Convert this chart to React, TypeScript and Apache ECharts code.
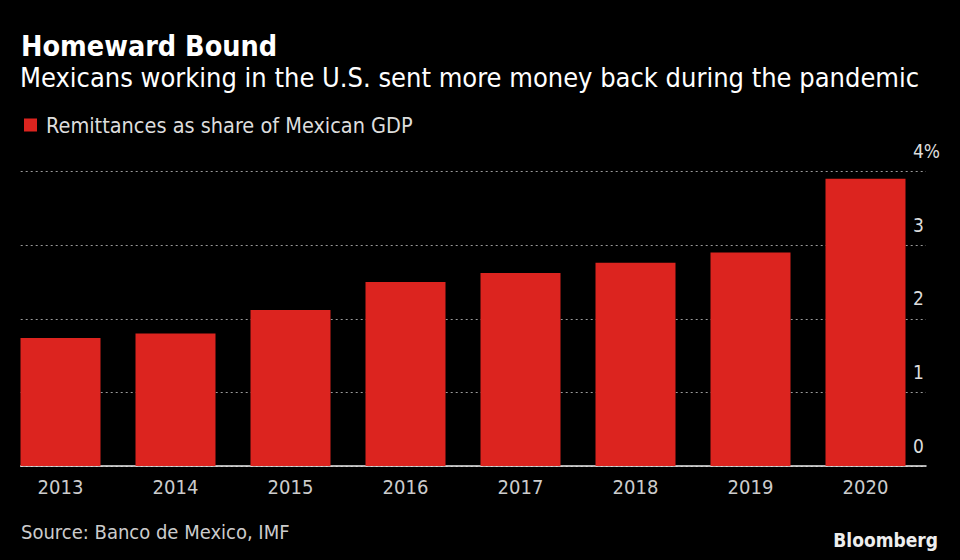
import React, { useEffect, useRef } from "react";
import * as echarts from "echarts";

const categories = ["2013", "2014", "2015", "2016", "2017", "2018", "2019", "2020"];
const remittances = [1.74, 1.8, 2.12, 2.5, 2.62, 2.76, 2.9, 3.9];
const yTicks = [0, 1, 2, 3, 4];

const FONT = "'DejaVu Sans Condensed', 'DejaVu Sans', sans-serif";
const RED = "#dc241f";

export default function App() {
  const ref = useRef<HTMLDivElement>(null);
  useEffect(() => {
    document.body.style.margin = "0";
    document.body.style.background = "#000";
    const chart = echarts.init(ref.current!, null, { renderer: "svg" });
    chart.setOption({
      animation: false,
      backgroundColor: "#000",
      textStyle: { fontFamily: FONT },
      title: [
        {
          text: "Homeward Bound",
          left: 21,
          top: 32,
          padding: 0,
          textStyle: { color: "#fff", fontSize: 28.5, fontWeight: "bold", fontFamily: FONT },
        },
        {
          text: "Mexicans working in the U.S. sent more money back during the pandemic",
          left: 20,
          top: 64,
          padding: 0,
          textStyle: { color: "#fff", fontSize: 27, fontWeight: "normal", fontFamily: FONT },
        },
        {
          text: "Source: Banco de Mexico, IMF",
          left: 21,
          top: 522,
          padding: 0,
          textStyle: { color: "#ccc", fontSize: 20, fontWeight: "normal", fontFamily: FONT },
        },
        {
          text: "Bloomberg",
          right: 22,
          top: 530,
          padding: 0,
          textStyle: { color: "#eee", fontSize: 19, fontWeight: "bold", fontFamily: FONT },
        },
      ],
      legend: {
        left: 19,
        top: 109,
        itemWidth: 13,
        itemHeight: 13,
        itemGap: 10,
        icon: "rect",
        textStyle: { color: "#ddd", fontSize: 21.5, fontFamily: FONT, padding: [0, 0, 0, 4] },
        data: ["Remittances as share of Mexican GDP"],
      },
      grid: [
        { left: 3, width: 920, top: 171.5, height: 294.5 },
        { left: 20.7, right: 34, top: 171.5, height: 294.5 },
      ],
      xAxis: [
        {
          type: "category",
          gridIndex: 0,
          data: categories,
          axisLine: { show: false },
          axisTick: { show: false },
          axisLabel: { color: "#ccc", fontSize: 20, margin: 11, fontFamily: FONT },
        },
        {
          type: "value",
          gridIndex: 1,
          min: 0,
          max: 1,
          axisLine: { show: true, onZero: false, lineStyle: { color: "#eee", width: 1.5 } },
          axisTick: { show: false },
          axisLabel: { show: false },
          splitLine: { show: false },
        },
      ],
      yAxis: [
        {
          type: "value",
          gridIndex: 0,
          min: 0,
          max: 4,
          interval: 1,
          show: false,
          splitLine: { show: false },
        },
        {
          type: "value",
          gridIndex: 1,
          position: "right",
          min: yTicks[0],
          max: yTicks[yTicks.length - 1],
          interval: 1,
          axisLine: { show: false },
          axisTick: { show: false },
          splitLine: { show: true, lineStyle: { color: "#999", type: [2, 3], width: 1 } },
          axisLabel: {
            color: "#ddd",
            fontSize: 19,
            align: "left",
            verticalAlign: "bottom",
            margin: -13,
            padding: [0, 0, 11, 0],
            fontFamily: FONT,
            formatter: (v: number) => (v === 4 ? v + "%" : String(v)),
          },
        },
      ],
      series: [
        {
          name: "Remittances as share of Mexican GDP",
          type: "bar",
          xAxisIndex: 0,
          yAxisIndex: 0,
          data: remittances,
          barWidth: 80,
          itemStyle: { color: RED },
        },
      ],
    });
    return () => chart.dispose();
  }, []);
  return <div ref={ref} style={{ width: 960, height: 560 }} />;
}
